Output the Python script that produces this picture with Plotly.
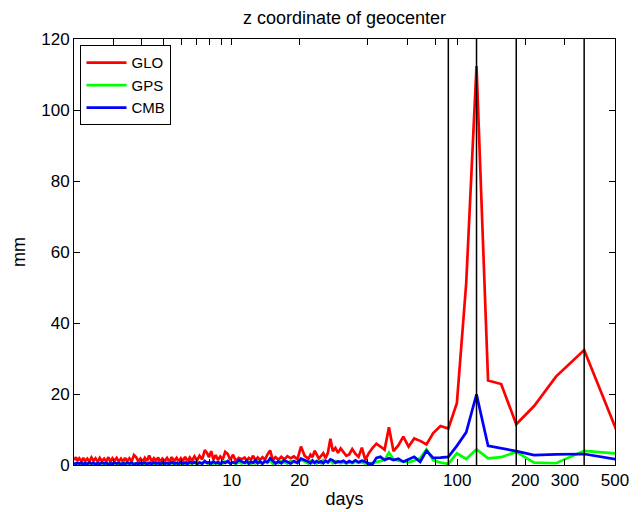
import plotly.graph_objects as go

# Period of each spectral point, in days (longest first)
period_days = [
    547.5, 365.0, 273.75, 219.0, 182.5, 156.43, 136.88, 121.67, 109.5, 99.55,
    91.25, 84.23, 78.21, 73.0, 68.44, 64.41, 60.83, 57.63, 54.75, 52.14,
    49.77, 47.61, 45.63, 43.8, 42.12, 40.56, 39.11, 37.76, 36.5, 35.32,
    34.22, 33.18, 32.21, 31.29, 30.42,
    29.59, 28.82, 28.08, 27.38, 26.71, 26.07, 25.47, 24.89, 24.33, 23.8, 23.3, 22.81, 22.35, 21.9,
    21.06, 20.28, 19.55, 18.88, 18.25, 17.66, 17.11, 16.59, 16.1, 15.64, 15.21,
    14.8, 14.41, 14.04, 13.69, 13.35, 13.04, 12.73, 12.44, 12.17, 11.9, 11.65, 11.41,
    11.06, 10.74, 10.43, 10.14, 9.86, 9.61, 9.36, 9.13, 8.9, 8.69, 8.49, 8.3, 8.11, 7.93, 7.77, 7.6,
    7.4, 7.2, 7.02, 6.84, 6.68, 6.52, 6.37, 6.22, 6.08, 5.95, 5.82, 5.7,
    5.56, 5.42, 5.29, 5.17, 5.05, 4.93, 4.82, 4.72, 4.62, 4.52,
    4.42, 4.31, 4.21, 4.12, 4.03, 3.94, 3.86, 3.78,
    3.69, 3.6, 3.52, 3.44, 3.37, 3.3, 3.23, 3.16,
    3.09, 3.02, 2.96, 2.9, 2.84, 2.78,
    2.72, 2.66, 2.6, 2.55, 2.49, 2.44,
    2.39, 2.34, 2.29, 2.24, 2.2, 2.16, 2.11, 2.07, 2.04, 2.0,
]

glo_mm = [
    4.6, 32.4, 24.9, 16.6, 11.5, 22.8, 23.8, 112.4, 51.2, 17.4,
    10.3, 11.0, 9.0, 5.8, 6.8, 7.5, 5.2, 8.0, 5.5, 3.9,
    10.6, 4.3, 5.2, 6.0, 4.8, 3.4, 1.4, 4.9, 2.3, 3.2,
    4.5, 3.0, 2.6, 3.6, 4.7,
    3.4, 4.8, 3.9, 7.4, 3.5, 1.9, 3.3, 2.6, 1.8, 3.0, 4.0, 2.2, 2.9, 1.8,
    2.6, 5.2, 1.6, 2.4, 1.9, 2.5, 1.6, 2.3, 1.5, 2.2, 1.4,
    4.1, 3.0, 1.5, 2.2, 1.4, 2.1, 1.3, 2.6, 1.5, 2.0, 1.2, 2.1,
    1.6, 2.0, 1.1, 2.9, 1.4, 3.1, 3.7, 1.6, 2.4, 1.4, 2.8, 1.5, 3.9, 2.2, 3.4, 4.2,
    1.6, 2.6, 1.3, 2.4, 1.2, 2.1, 1.0, 2.3, 1.2, 1.9, 1.0, 2.0,
    1.1, 2.2, 0.9, 2.0, 1.1, 1.8, 0.9, 2.1, 1.2, 1.9,
    1.0, 2.7, 1.1, 2.0, 0.9, 1.8, 1.0, 2.1,
    2.8, 1.0, 1.9, 1.1, 2.0, 0.9, 1.8, 1.0,
    2.0, 1.1, 1.9, 0.9, 2.2, 1.0,
    1.8, 1.1, 2.0, 0.9, 1.9, 1.2,
    2.1, 1.0, 1.8, 1.1, 2.0, 1.0, 1.9, 1.2, 2.2, 1.4,
]

gps_mm = [
    3.1, 4.0, 0.5, 0.65, 3.7, 2.2, 1.9, 4.4, 1.7, 3.3,
    0.3, 0.7, 1.3, 4.4, 1.9, 1.2, 0.8, 0.9, 1.2, 1.6,
    3.5, 1.4, 1.1, 0.9, 0.6, 0.5, 0.4, 0.8, 0.6, 0.9,
    0.5, 0.7, 0.4, 0.8, 0.5,
    0.8, 1.1, 0.5, 1.2, 0.6, 0.9, 1.4, 0.5, 1.0, 0.4, 0.8, 0.6, 1.1, 0.4,
    0.9, 1.5, 0.5, 0.8, 1.2, 0.4, 0.7, 1.1, 0.5, 0.8, 0.3,
    1.3, 0.6, 0.9, 0.3, 0.7, 1.0, 0.4, 0.8, 0.3, 0.9, 0.5, 0.7,
    0.4, 0.8, 0.3, 0.7, 0.5, 0.8, 1.0, 0.4, 0.7, 0.3, 0.6, 0.4, 0.8, 0.3, 0.6, 0.9,
    0.3, 0.6, 0.4, 0.7, 0.3, 0.5, 0.6, 0.3, 0.6, 0.4, 0.6, 0.3,
    0.5, 0.4, 0.6, 0.3, 0.5, 0.3, 0.5, 0.4, 0.6, 0.3,
    0.5, 0.4, 0.5, 0.3, 0.6, 0.3, 0.5, 0.3,
    0.4, 0.3, 0.5, 0.3, 0.4, 0.6, 0.3, 0.4,
    0.3, 0.5, 0.3, 0.4, 0.5, 0.3,
    0.4, 0.3, 0.5, 0.3, 0.4, 0.3,
    0.5, 0.3, 0.4, 0.3, 0.5, 0.3, 0.4, 0.3, 0.5, 0.3,
]

cmb_mm = [
    1.2, 3.1, 3.0, 2.8, 3.9, 4.6, 5.4, 19.9, 9.2, 5.4,
    2.3, 2.1, 2.0, 4.0, 0.9, 2.3, 1.6, 0.9, 1.8, 1.4,
    1.9, 1.4, 2.3, 2.0, 0.3, 0.4, 0.9, 1.2, 0.8, 1.3,
    0.7, 1.1, 0.6, 1.2, 0.9,
    1.0, 0.6, 1.3, 1.6, 0.8, 1.2, 0.5, 1.0, 0.7, 1.1, 0.6, 1.3, 0.5, 0.9,
    1.4, 1.8, 0.6, 1.1, 0.4, 0.9, 1.3, 0.5, 1.0, 0.4, 1.2,
    1.9, 0.8, 1.1, 0.4, 1.0, 0.5, 1.3, 0.6, 0.9, 0.4, 1.2, 0.6,
    0.9, 1.4, 0.5, 0.8, 0.4, 1.1, 0.6, 0.9, 0.3, 0.8, 0.5, 1.0, 0.4, 0.8, 0.6, 1.1,
    0.4, 0.7, 0.3, 0.8, 0.5, 0.9, 0.3, 0.7, 0.4, 0.8, 0.3, 0.6,
    0.4, 0.8, 0.3, 0.6, 0.4, 0.7, 0.2, 0.6, 0.4, 0.7,
    0.3, 0.6, 0.2, 0.7, 0.4, 0.6, 0.3, 0.5,
    0.2, 0.6, 0.4, 0.7, 0.3, 0.5, 0.2, 0.6,
    0.4, 0.7, 0.3, 0.5, 0.2, 0.6,
    0.4, 0.7, 0.3, 0.5, 0.2, 0.6,
    0.4, 0.7, 0.3, 0.5, 0.2, 0.6, 0.4, 0.6, 0.3, 0.5,
]

# Annual harmonics marked with vertical lines (days)
marker_periods = [91.25, 121.67, 182.5, 365.0]

x_tick_vals = [3, 4, 5, 6, 7, 8, 9, 10, 20, 40, 60, 80, 100, 200, 300, 500]
x_tick_text = ["", "", "", "", "", "", "", "10", "20", "", "", "", "100", "200", "300", "500"]
y_tick_vals = [0, 20, 40, 60, 80, 100, 120]

assert len(period_days) == len(glo_mm) == len(gps_mm) == len(cmb_mm)

FONT = "Liberation Sans, Arial, Helvetica, sans-serif"

fig = go.Figure()
series = [("GLO", glo_mm, "#ff0000"), ("GPS", gps_mm, "#00ff00"), ("CMB", cmb_mm, "#0000ff")]
for name, vals, col in series:
    fig.add_trace(go.Scatter(x=period_days, y=vals, mode="lines", name=name,
                             line=dict(color=col, width=2.7)))

vx, vy = [], []
for p in marker_periods:
    vx += [p, p, None]
    vy += [0, 120, None]
fig.add_trace(go.Scatter(x=vx, y=vy, mode="lines", showlegend=False,
                         line=dict(color="black", width=1.5), hoverinfo="skip"))

axis_common = dict(showline=True, linecolor="black", linewidth=1, mirror="ticks",
                   ticks="inside", ticklen=6, tickcolor="black", tickwidth=1,
                   showgrid=False, zeroline=False, automargin=False,
                   tickfont=dict(family=FONT, size=17, color="black"))

fig.update_layout(
    width=641, height=512,
    margin=dict(l=74, r=26, t=39, b=47, autoexpand=False),
    paper_bgcolor="white", plot_bgcolor="white",
    font=dict(family=FONT, color="black"),
    title=dict(text="z coordinate of geocenter", x=0.5375, xanchor="center",
               y=1 - 18 / 512, yanchor="middle", yref="container",
               font=dict(family=FONT, size=18, color="black")),
    xaxis=dict(type="log", range=[0.30103, 2.69897], tickmode="array",
               tickvals=x_tick_vals, ticktext=x_tick_text,
               title=dict(text="days", standoff=2, font=dict(family=FONT, size=18)),
               **axis_common),
    yaxis=dict(range=[0, 120], tickmode="array", tickvals=y_tick_vals,
               title=dict(text="mm", standoff=10, font=dict(family=FONT, size=18)),
               **axis_common),
    legend=dict(x=0.012, y=0.985, xanchor="left", yanchor="top",
                bgcolor="white", bordercolor="black", borderwidth=1,
                font=dict(family=FONT, size=15, color="black"),
                itemwidth=40, tracegroupgap=0),
    showlegend=True,
)

fig.write_html("out.html")
